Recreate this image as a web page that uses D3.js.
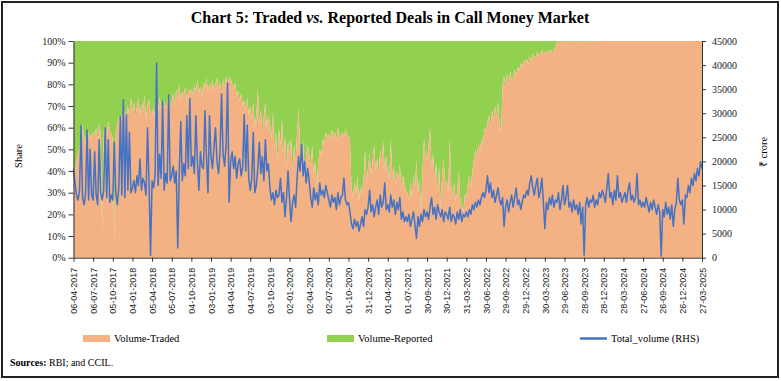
<!DOCTYPE html>
<html><head><meta charset="utf-8">
<script src="https://cdn.jsdelivr.net/npm/d3@7"></script>
<style>body{margin:0;background:#fff} svg{display:block}</style>
</head><body><svg id="c" width="781" height="381"></svg>
<script>
const tickLabels = ["06-04-2017","06-07-2017","05-10-2017","04-01-2018","05-04-2018","05-07-2018","04-10-2018","03-01-2019","04-04-2019","04-07-2019","03-10-2019","02-01-2020","02-04-2020","02-07-2020","01-10-2020","31-12-2020","01-04-2021","01-07-2021","30-09-2021","30-12-2021","31-03-2022","30-06-2022","29-09-2022","29-12-2022","30-03-2023","29-06-2023","28-09-2023","28-12-2023","28-03-2024","27-06-2024","26-09-2024","26-12-2024","27-03-2025"];
const firstDate = "06-04-2017";
const stepDays = 7; // weekly observations

// Share of traded deals in total call money volume (%)
const tradedShare = [
42,40,45,48,52,50,62,53,56,54,58,55,57,
58,56,60,55,62,57,12,58,61,56,63,59,57,
55,8,58,62,65,60,66,63,68,64,70,66,74,
68,72,65,70,74,66,71,69,75,64,70,73,67,
66,70,64,72,68,74,70,67,73,69,71,75,70,
72,76,70,78,74,80,73,77,75,79,72,78,76,
78,75,80,77,82,76,79,74,81,78,83,77,80,
79,82,77,80,83,78,81,76,82,79,84,80,83,
83,80,78,81,75,77,72,76,70,73,68,74,66,
70,64,72,60,66,78,62,68,58,65,72,60,66,
62,55,67,50,58,45,60,52,64,48,56,42,54,
48,55,40,52,45,58,69,50,42,54,38,47,52,
48,42,52,38,45,33,44,50,47,55,52,58,56,
57,55,59,56,58,54,60,57,55,58,56,59,57,
56,55,32,28,35,30,38,26,33,29,36,50,34,
42,48,38,45,52,40,46,39,50,44,54,41,47,
40,36,55,38,42,34,40,36,43,33,38,35,31,
30,26,35,28,38,33,45,30,36,21,40,55,48,
45,52,60,40,48,36,44,30,42,23,38,46,34,
36,30,55,33,28,35,26,31,40,27,24,21,29,
28,34,38,32,40,45,50,47,53,49,55,52,60,
58,62,66,60,68,64,70,65,72,62,58,80,84,
78,85,80,86,82,83,87,84,88,86,90,88,91,
90,92,89,93,91,94,92,93,95,93,94,96,94,
95,94,96,95,96,94,96,97,99.5,99.6,99.5,99.6,99.7,
99.6,99.7,99.5,99.7,99.6,99.8,99.6,99.7,99.5,99.7,99.6,99.7,99.6,
99.7,99.6,99.7,99.6,99.8,99.7,99.6,99.8,99.7,100,100,100,100,
100,100,100,100,100,100,100,100,100,100,100,100,100,
100,100,100,100,100,100,100,100,100,100,100,100,100,
100,100,100,100,100,100,100,100,100,100,100,100,100,
100,100,100,100,100,100,100,100,100,100,100,100,100,
100,100,100,100,100,100,100,100,100,100,100,100,100,
100];

// Total call money volume (₹ crore, RHS)
const totalVolume = [
18500,15500,13000,12000,14000,27500,12500,11000,13500,26500,12000,22500,13000,
12000,22000,13000,11000,24500,13500,12000,14000,27000,12500,24500,11500,13000,
12000,24000,13500,11000,14500,29300,13000,32800,12500,29700,14000,26000,13500,
14500,16000,13500,17000,15000,20500,14000,16500,15500,13000,27000,15500,500,
16000,14500,17000,40500,15000,21500,16500,32500,14000,17500,15500,33800,16000,
17000,19000,15500,18000,2000,17500,28300,16000,19500,17000,29500,18500,33000,
19000,21000,17500,29500,20000,14000,22000,19000,18500,30500,21000,13500,29500,
21000,18500,23000,27000,20000,17500,22000,34000,21500,19000,23500,36300,11500,
20000,22000,18500,21000,16500,19500,20500,17000,19000,29700,18000,27500,16500,
14000,16500,26000,13500,15000,18500,24000,17500,21000,16000,24500,18000,19500,
14500,12000,13500,11000,14000,12500,13000,16500,11500,13500,8500,12500,18000,
12000,7500,11500,13000,10500,16500,21000,18000,23500,17000,20000,15500,18500,
16000,12500,10500,14500,12000,13500,11000,15500,13000,14000,12500,15000,13500,
12000,10500,13000,11500,12500,10000,13500,11000,12500,13000,16500,12000,11000,
11500,9500,7000,6000,8000,6500,7500,5500,7000,8500,6500,10000,9000,
10500,14000,9500,11000,8500,10500,12000,9000,13000,10500,11500,15500,10000,
11000,9500,13000,10500,12000,9000,11500,10000,12500,8000,9500,7500,8500,
7500,9000,6500,8000,9500,7000,4000,8500,6500,9000,7500,10000,8500,
9500,8000,10500,12500,9000,10500,8000,11000,9500,8500,10000,7500,9500,
9000,8000,10500,7500,9000,8500,7000,9500,8000,10000,7500,9000,8500,
9500,8500,10000,9000,11000,10000,11500,10500,12000,11000,12500,13500,12500,
14000,17000,13500,15500,12500,14000,11500,13000,14500,12000,11000,12500,6500,
10500,12000,9500,11500,13000,10500,12500,14500,11000,12000,10000,11500,13000,
12500,14000,13000,15500,17000,14500,13000,15000,16500,12500,14000,16500,11500,
6000,11500,10000,12500,11000,13000,10500,12000,11500,13500,10000,12000,15000,
11000,12500,15000,10500,11500,9500,12000,10000,11000,9000,11500,7000,10500,
500,11000,12500,10500,12000,11500,13000,10500,12000,11000,13500,12500,14000,
13000,11500,14500,17500,12500,13500,11000,14000,12000,17000,12500,13500,11500,
12500,13500,11500,14000,15500,12000,13000,11500,12500,17500,11000,12000,10500,
11500,10500,12500,11000,9500,11500,10000,12000,10500,9000,11000,9500,300,
10000,8500,11500,9000,10500,8000,11000,6500,10000,11500,16500,12000,11000,
12000,7000,13000,12500,15000,13500,16500,15000,17500,16000,18500,17000,20000,
18500];

const leftTicks = [0,10,20,30,40,50,60,70,80,90,100];
const rightTicks = [0,5000,10000,15000,20000,25000,30000,35000,40000,45000];
const seriesNames = ["Volume-Traded","Volume-Reported","Total_volume (RHS)"];
const colTraded = "#F4B183", colReported = "#92D050", colTotal = "#4472C4";

const parse = d3.timeParse("%d-%m-%Y");
const start = parse(firstDate);
const data = tradedShare.map((s, i) => ({
  date: d3.timeDay.offset(start, i * stepDays), traded: s, total: totalVolume[i]
}));
const tickDates = tickLabels.map(parse);

const svg = d3.select("#c");
const L = 73.5, R = 702, T = 41, B = 257.7;
const x = d3.scaleTime().domain([tickDates[0], tickDates[tickDates.length-1]]).range([L, R]);
const yL = d3.scaleLinear().domain([0, 100]).range([B, T]);
const yR = d3.scaleLinear().domain([0, 45000]).range([B, T]);

svg.append("rect").attr("x",2).attr("y",2).attr("width",776).attr("height",375)
  .attr("fill","#fff").attr("stroke","#222").attr("stroke-width",2);

svg.append("text").attr("x",390).attr("y",23).attr("text-anchor","middle")
  .style("font-family","'Liberation Serif', serif").style("font-size","16px").style("font-weight","bold")
  .call(t => {
    t.append("tspan").text("Chart 5: Traded ");
    t.append("tspan").style("font-style","italic").text("vs.");
    t.append("tspan").text(" Reported Deals in Call Money Market");
  });

// areas
svg.append("path").datum(data)
  .attr("fill", colReported)
  .attr("d", d3.area().x(d => x(d.date)).y0(d => yL(d.traded)).y1(yL(100)));
svg.append("path").datum(data)
  .attr("fill", colTraded)
  .attr("d", d3.area().x(d => x(d.date)).y0(yL(0)).y1(d => yL(d.traded)));
// line
svg.append("path").datum(data)
  .attr("fill","none").attr("stroke", colTotal).attr("stroke-width",1.5).attr("stroke-linejoin","round")
  .attr("d", d3.line().x(d => x(d.date)).y(d => yR(d.total)));

const axisStyle = g => { g.selectAll("path,line").attr("stroke","#333"); };

svg.append("g").attr("transform",`translate(${L},0)`)
  .call(d3.axisLeft(yL).tickValues(leftTicks).tickFormat(d => d + "%").tickSize(5).tickSizeOuter(0).tickPadding(3))
  .call(axisStyle)
  .call(g => g.selectAll("text").style("font-family","'Liberation Serif', serif").style("font-size","10px").attr("fill","#222"));

svg.append("g").attr("transform",`translate(${R},0)`)
  .call(d3.axisRight(yR).tickValues(rightTicks).tickFormat(d3.format("d")).tickSize(4).tickSizeOuter(0).tickPadding(6))
  .call(axisStyle)
  .call(g => g.selectAll("text").style("font-family","'Liberation Serif', serif").style("font-size","10px").attr("fill","#222"));

svg.append("g").attr("transform",`translate(0,${B})`)
  .call(d3.axisBottom(x).tickValues(tickDates).tickFormat((d,i) => tickLabels[i]).tickSize(4).tickSizeOuter(0))
  .call(axisStyle)
  .call(g => g.selectAll("text")
    .style("font-family","'Liberation Sans', sans-serif").style("font-size","9px").attr("fill","#222")
    .attr("text-anchor","end").attr("y",0).attr("dy","0.35em")
    .attr("transform","translate(0,10) rotate(-90)").attr("x",0));

svg.append("text").attr("transform","translate(18,156) rotate(-90)").attr("text-anchor","middle")
  .attr("dy","0.35em").style("font-family","'Liberation Serif', serif").style("font-size","10.5px").text("Share");
svg.append("text").attr("transform","translate(763,152) rotate(-90)").attr("text-anchor","middle")
  .attr("dy","0.35em").style("font-family","'Liberation Serif', serif").style("font-size","10.5px").text("₹ crore");

// legend
const lg = svg.append("g").style("font-family","'Liberation Serif', serif").style("font-size","10.5px");
lg.append("rect").attr("x",83).attr("y",335).attr("width",27).attr("height",7).attr("fill",colTraded);
lg.append("text").attr("x",114).attr("y",342).text(seriesNames[0]);
lg.append("rect").attr("x",327).attr("y",335).attr("width",27).attr("height",7).attr("fill",colReported);
lg.append("text").attr("x",358).attr("y",342).text(seriesNames[1]);
lg.append("line").attr("x1",580).attr("x2",607).attr("y1",338.5).attr("y2",338.5).attr("stroke",colTotal).attr("stroke-width",2.5);
lg.append("text").attr("x",611).attr("y",342).text(seriesNames[2]);

svg.append("text").attr("x",10).attr("y",366)
  .style("font-family","'Liberation Serif', serif").style("font-size","10px")
  .call(t => {
    t.append("tspan").style("font-weight","bold").text("Sources:");
    t.append("tspan").text(" RBI; and CCIL.");
  });
</script></body></html>
